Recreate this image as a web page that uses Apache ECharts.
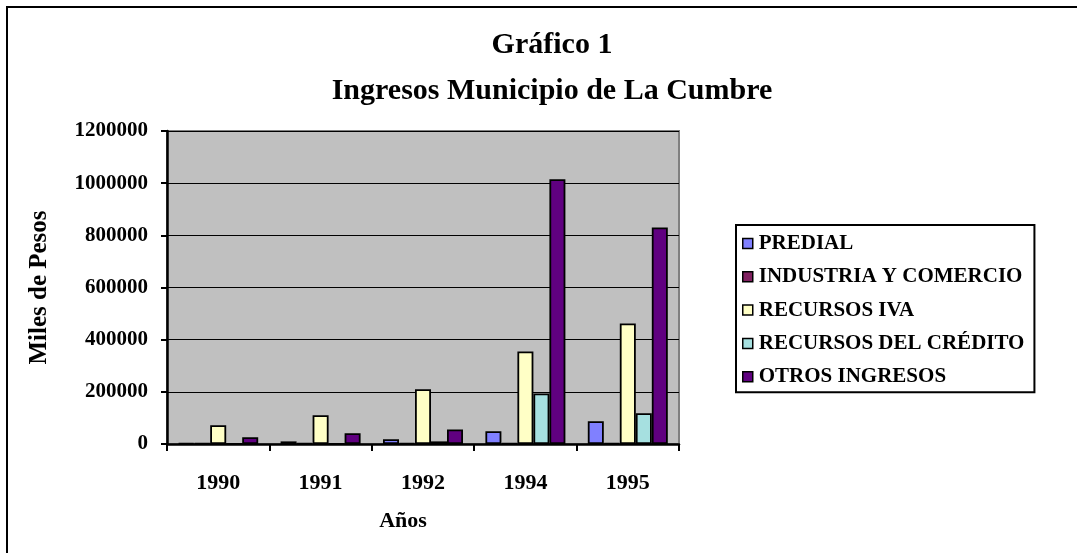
<!DOCTYPE html>
<html>
<head>
<meta charset="utf-8">
<script src="https://cdn.jsdelivr.net/npm/echarts@6/dist/echarts.min.js"></script>
<style>
  html, body { margin: 0; padding: 0; background: #fff; }
  #chart { width: 1077px; height: 553px; }
</style>
</head>
<body>
<div id="chart"></div>
<script>
// datos del gráfico
const years = ["1990", "1991", "1992", "1994", "1995"];
const predial = [3000, 10000, 18000, 49000, 87000];
const industria = [2000, 3000, 3000, 3000, 3000];
const recursosIva = [72000, 110000, 210000, 355000, 462000];
const recursosCredito = [0, 0, 10000, 194000, 118000];
const otrosIngresos = [26000, 41000, 56000, 1015000, 830000];
const yTicks = [0, 200000, 400000, 600000, 800000, 1000000, 1200000];

const serif = "'Liberation Serif', 'Times New Roman', serif";

const mkSeries = (name, data, color) => ({
  name: name,
  type: "bar",
  data: data,
  barWidth: 16,
  barGap: "0%",
  itemStyle: { color: color, borderColor: "#000", borderWidth: 1.8 },
});

const chart = echarts.init(document.getElementById("chart"));
chart.setOption({
  animation: false,
  textStyle: { fontFamily: serif, fontWeight: "bold", color: "#000" },
  title: {
    text: "Gráfico 1\nIngresos Municipio de La Cumbre",
    left: 547,
    textAlign: "center",
    top: 17,
    textStyle: { fontFamily: serif, fontWeight: "bold", fontSize: 30, lineHeight: 46, color: "#000" },
  },
  // marco exterior
  graphic: [
    {
      type: "rect",
      shape: { x: 7, y: 7, width: 1100, height: 600 },
      style: { fill: "none", stroke: "#000", lineWidth: 2 },
      silent: true,
    },
  ],
  legend: {
    orient: "vertical",
    left: 736,
    top: 225,
    padding: [8, 10, 5, 6],
    itemGap: 12.3,
    itemWidth: 10,
    itemHeight: 10,
    backgroundColor: "#fff",
    borderColor: "#000",
    borderWidth: 2,
    borderRadius: 0,
    icon: "rect",
    itemStyle: { borderColor: "#000", borderWidth: 1.5 },
    textStyle: { fontFamily: serif, fontWeight: "bold", fontSize: 21, lineHeight: 20, color: "#000", padding: [0, 0, 0, 1] },
  },
  grid: {
    left: 167,
    top: 131,
    right: 398,
    bottom: 109,
    show: true,
    backgroundColor: "#c0c0c0",
    borderColor: "#808080",
    borderWidth: 2,
  },
  xAxis: {
    type: "category",
    data: years,
    name: "Años",
    nameLocation: "middle",
    nameGap: 66,
    nameTextStyle: { fontFamily: serif, fontWeight: "bold", fontSize: 22, color: "#000", padding: [0, 40, 0, 0] },
    axisLine: { lineStyle: { color: "#000", width: 2.5 } },
    axisTick: { show: true, length: 7, lineStyle: { color: "#000", width: 2 } },
    axisLabel: { margin: 28, fontFamily: serif, fontWeight: "bold", fontSize: 22, color: "#000" },
  },
  yAxis: {
    type: "value",
    min: yTicks[0],
    max: yTicks[yTicks.length - 1],
    interval: yTicks[1] - yTicks[0],
    name: "Miles de Pesos",
    nameLocation: "middle",
    nameGap: 115,
    nameTextStyle: { fontFamily: serif, fontWeight: "bold", fontSize: 25, color: "#000" },
    axisLine: { show: true, lineStyle: { color: "#000", width: 2.5 } },
    axisTick: { show: true, length: 6, lineStyle: { color: "#000", width: 2 } },
    axisLabel: {
      margin: 19,
      fontFamily: serif,
      fontWeight: "bold",
      fontSize: 21,
      color: "#000",
      formatter: (v) => String(v),
    },
    splitLine: { lineStyle: { color: "#000", width: 1 } },
  },
  series: [
    mkSeries("PREDIAL", predial, "#8080ff"),
    mkSeries("INDUSTRIA Y COMERCIO", industria, "#802060"),
    mkSeries("RECURSOS IVA", recursosIva, "#ffffc6"),
    mkSeries("RECURSOS DEL CRÉDITO", recursosCredito, "#a6e0e0"),
    mkSeries("OTROS INGRESOS", otrosIngresos, "#600080"),
  ],
});
</script>
</body>
</html>
